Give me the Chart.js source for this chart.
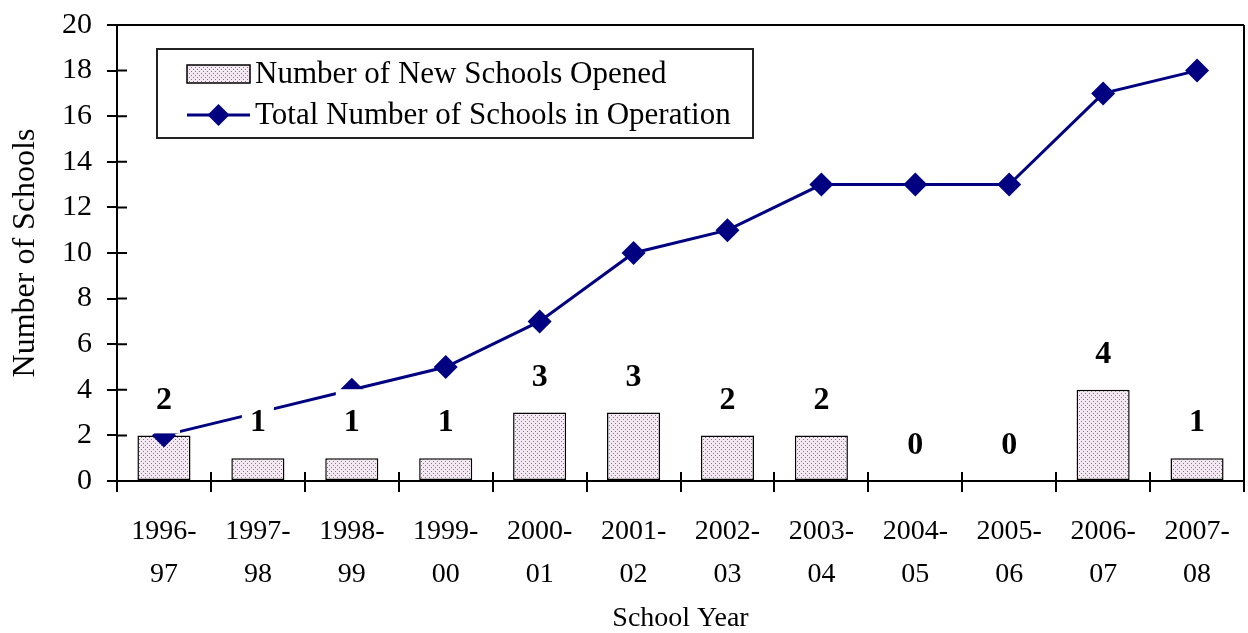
<!DOCTYPE html>
<html>
<head>
<meta charset="utf-8">
<title>Number of Schools by School Year</title>
<script src="https://cdn.jsdelivr.net/npm/chart.js@4/dist/chart.umd.min.js"></script>
<style>
  html, body { margin: 0; padding: 0; background: #ffffff; }
  canvas { display: block; }
</style>
</head>
<body>
<canvas id="chart" width="1248" height="633"></canvas>
<script>
// School years (two-line tick labels)
const schoolYears = [
  ['1996-', '97'], ['1997-', '98'], ['1998-', '99'], ['1999-', '00'],
  ['2000-', '01'], ['2001-', '02'], ['2002-', '03'], ['2003-', '04'],
  ['2004-', '05'], ['2005-', '06'], ['2006-', '07'], ['2007-', '08']
];
// Number of new schools opened each year
const newSchools = [2, 1, 1, 1, 3, 3, 2, 2, 0, 0, 4, 1];
// Total number of schools in operation
const totalSchools = [2, 3, 4, 5, 7, 10, 11, 13, 13, 13, 17, 18];
// Value axis
const yMin = 0, yMax = 20, yStep = 2;

const SERIF = '"Liberation Serif", "Times New Roman", serif';
const NAVY = '#000080';

// Stippled fill for the bars
function makeStipple() {
  const c = document.createElement('canvas');
  c.width = 4; c.height = 4;
  const g = c.getContext('2d');
  g.fillStyle = '#f5eaf3';
  g.fillRect(0, 0, 4, 4);
  g.fillStyle = '#857585';
  g.fillRect(1, 1, 1, 1);
  g.fillRect(3, 3, 1, 1);
  return g.createPattern(c, 'repeat');
}
const ctx = document.getElementById('chart').getContext('2d');
const stipple = makeStipple();

// Value labels above the bars, on a white patch
const barLabels = {
  id: 'barLabels',
  afterDatasetsDraw(chart) {
    const c = chart.ctx;
    const meta = chart.getDatasetMeta(0);
    c.save();
    c.font = 'bold 32px ' + SERIF;
    c.textAlign = 'center';
    c.textBaseline = 'middle';
    meta.data.forEach((bar, i) => {
      const cy = bar.y - 36;
      c.fillStyle = '#ffffff';
      c.fillRect(bar.x - 16, cy - 33, 32, 67);
      c.fillStyle = '#000000';
      c.fillText(String(newSchools[i]), bar.x, cy + 1);
    });
    c.restore();
  }
};

// Plot frame, inner tick marks and the legend box
const frameAndLegend = {
  id: 'frameAndLegend',
  afterDraw(chart) {
    const c = chart.ctx;
    const a = chart.chartArea;
    const xs = chart.scales.x, ys = chart.scales.y;
    c.save();
    c.strokeStyle = '#000000';
    c.lineWidth = 2;
    c.beginPath();
    c.moveTo(a.left, a.top); c.lineTo(a.right, a.top);
    c.moveTo(a.right, a.top); c.lineTo(a.right, a.bottom);
    // inner halves of the tick marks
    ys.ticks.forEach((t, i) => {
      const y = ys.getPixelForTick(i);
      c.moveTo(a.left, y); c.lineTo(a.left + 10, y);
    });
    const n = xs.ticks.length;
    const w = (a.right - a.left) / n;
    for (let i = 0; i <= n; i++) {
      const x = Math.round(a.left + i * w);
      c.moveTo(x, a.bottom); c.lineTo(x, a.bottom - 9);
    }
    c.stroke();

    // legend
    const ds = chart.data.datasets;
    const bx = a.left + 40, by = a.top + 24, bw = 596, bh = 89;
    c.fillStyle = '#ffffff';
    c.fillRect(bx, by, bw, bh);
    c.lineWidth = 2;
    c.strokeStyle = '#222222';
    c.strokeRect(bx, by, bw, bh);

    const sx = bx + 30, sw = 63;
    const row1 = by + 25, row2 = by + 66;
    c.fillStyle = stipple;
    c.fillRect(sx, row1 - 9, sw, 18);
    c.lineWidth = 1.5;
    c.strokeStyle = '#000000';
    c.strokeRect(sx, row1 - 9, sw, 18);

    c.strokeStyle = NAVY;
    c.lineWidth = 3;
    c.beginPath();
    c.moveTo(sx, row2); c.lineTo(sx + sw, row2);
    c.stroke();
    c.fillStyle = NAVY;
    c.beginPath();
    const mx = sx + sw / 2, r = 11;
    c.moveTo(mx, row2 - r); c.lineTo(mx + r, row2);
    c.lineTo(mx, row2 + r); c.lineTo(mx - r, row2);
    c.closePath();
    c.fill();

    c.fillStyle = '#000000';
    c.font = '31px ' + SERIF;
    c.textAlign = 'left';
    c.textBaseline = 'middle';
    c.fillText(ds[0].label, sx + sw + 5, row1 + 1);
    c.fillText(ds[1].label, sx + sw + 5, row2 + 1);
    c.restore();
  }
};

new Chart(ctx, {
  type: 'bar',
  data: {
    labels: schoolYears,
    datasets: [
      {
        type: 'bar',
        label: 'Number of New Schools Opened',
        data: newSchools,
        backgroundColor: stipple,
        borderColor: '#000000',
        borderWidth: 1.5,
        borderSkipped: false,
        barPercentage: 0.565,
        categoryPercentage: 1,
        order: 2
      },
      {
        type: 'line',
        label: 'Total Number of Schools in Operation',
        data: totalSchools,
        borderColor: NAVY,
        backgroundColor: NAVY,
        borderWidth: 3,
        tension: 0,
        pointStyle: 'rectRot',
        pointRadius: 12,
        pointBorderWidth: 0,
        pointBackgroundColor: NAVY,
        order: 1
      }
    ]
  },
  options: {
    responsive: false,
    animation: false,
    devicePixelRatio: 1,
    layout: { autoPadding: false, padding: { top: 25, right: 4, left: 0, bottom: 0 } },
    plugins: {
      legend: { display: false },
      tooltip: { enabled: false }
    },
    scales: {
      x: {
        offset: true,
        grid: {
          offset: true,
          drawOnChartArea: false,
          drawTicks: true,
          tickLength: 11,
          color: '#000000',
          lineWidth: 2
        },
        border: { display: true, color: '#000000', width: 2 },
        ticks: {
          color: '#000000',
          font: { family: SERIF, size: 28, lineHeight: 1.54 },
          padding: 18,
          maxRotation: 0,
          autoSkip: false
        },
        title: {
          display: true,
          text: 'School Year',
          color: '#000000',
          font: { family: SERIF, size: 28, lineHeight: 1 },
          padding: { top: 0, bottom: 0 }
        },
        afterFit(scale) {
          scale.height = 152;
          scale.paddingLeft = 0;
          scale.paddingRight = 0;
        }
      },
      y: {
        min: yMin,
        max: yMax,
        ticks: {
          stepSize: yStep,
          color: '#000000',
          font: { family: SERIF, size: 30 },
          padding: 15
        },
        grid: {
          drawOnChartArea: false,
          drawTicks: true,
          tickLength: 10,
          color: '#000000',
          lineWidth: 2
        },
        border: { display: true, color: '#000000', width: 2 },
        title: {
          display: true,
          text: 'Number of Schools',
          color: '#000000',
          font: { family: SERIF, size: 32, lineHeight: 1 },
          padding: { top: 10, bottom: 0 }
        },
        afterFit(scale) {
          scale.width = 117;
          scale.paddingTop = 0;
          scale.paddingBottom = 0;
        }
      }
    }
  },
  plugins: [barLabels, frameAndLegend]
});
</script>
</body>
</html>
